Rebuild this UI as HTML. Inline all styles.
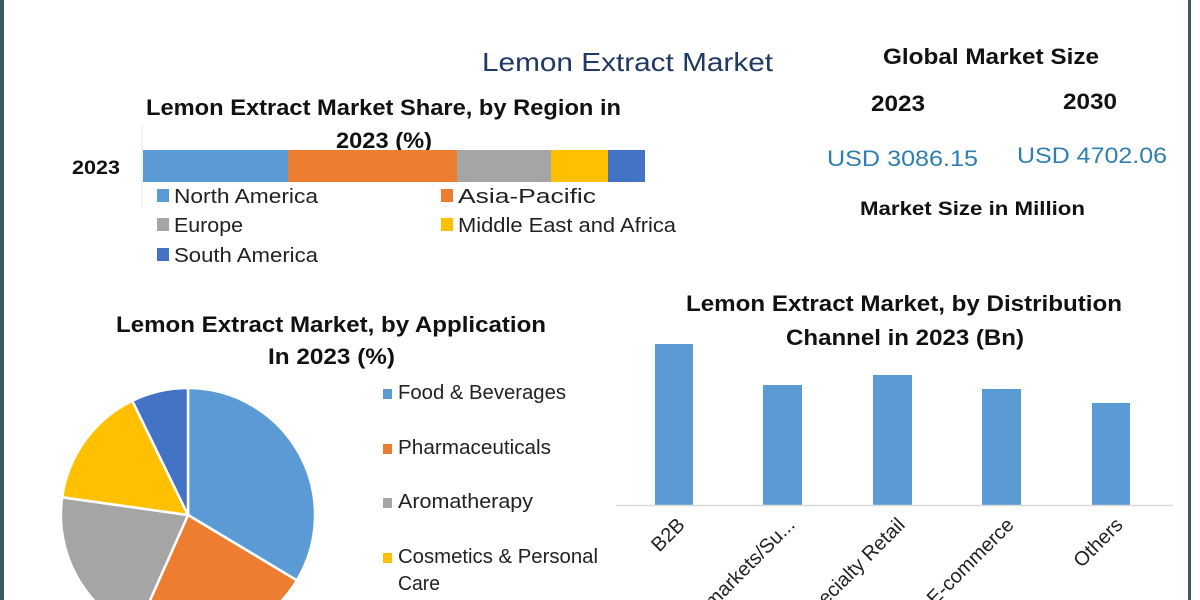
<!DOCTYPE html>
<html><head><meta charset="utf-8"><style>
html,body{margin:0;padding:0;background:#fff;width:1200px;height:600px;overflow:hidden}
svg{display:block;overflow:hidden}
text{font-family:"Liberation Sans",sans-serif}
.b{font-weight:bold;fill:#111}
.n{fill:#222}
</style></head><body>
<svg width="1200" height="600" viewBox="0 0 1200 600" xmlns="http://www.w3.org/2000/svg">
<defs><clipPath id="c"><rect x="0" y="0" width="1200" height="600"/></clipPath></defs>
<g clip-path="url(#c)">
<rect x="0" y="0" width="1200" height="600" fill="#fff"/>
<rect x="0" y="0" width="4" height="600" fill="#3d5a63"/>
<rect x="1188" y="0" width="3" height="600" fill="#3d5a63"/>

<text x="482" y="71" font-size="26" fill="#1f3864" textLength="291" lengthAdjust="spacingAndGlyphs">Lemon Extract Market</text>

<text class="b" x="146" y="115" font-size="22" textLength="475" lengthAdjust="spacingAndGlyphs">Lemon Extract Market Share, by Region in</text>
<text class="b" x="336" y="148" font-size="22" textLength="96" lengthAdjust="spacingAndGlyphs">2023 (%)</text>
<line x1="142" y1="125" x2="142" y2="208" stroke="#e6e6e6"/>
<text class="b" x="72" y="174" font-size="19" textLength="48" lengthAdjust="spacingAndGlyphs">2023</text>
<rect x="143" y="150" width="145" height="32" fill="#5b9bd5"/>
<rect x="288" y="150" width="169" height="32" fill="#ed7d31"/>
<rect x="457" y="150" width="94" height="32" fill="#a5a5a5"/>
<rect x="551" y="150" width="57" height="32" fill="#ffc000"/>
<rect x="608" y="150" width="37" height="32" fill="#4472c4"/>
<rect x="157" y="189" width="12" height="13" fill="#5b9bd5"/>
<text class="n" x="174" y="203" font-size="20" textLength="144" lengthAdjust="spacingAndGlyphs">North America</text>
<rect x="441" y="189" width="12" height="13" fill="#ed7d31"/>
<text class="n" x="458" y="203" font-size="20" textLength="138" lengthAdjust="spacingAndGlyphs">Asia-Pacific</text>
<rect x="157" y="218" width="12" height="13" fill="#a5a5a5"/>
<text class="n" x="174" y="232" font-size="20" textLength="69" lengthAdjust="spacingAndGlyphs">Europe</text>
<rect x="441" y="218" width="12" height="13" fill="#ffc000"/>
<text class="n" x="458" y="232" font-size="20" textLength="218" lengthAdjust="spacingAndGlyphs">Middle East and Africa</text>
<rect x="157" y="248" width="12" height="13" fill="#4472c4"/>
<text class="n" x="174" y="262" font-size="20" textLength="144" lengthAdjust="spacingAndGlyphs">South America</text>

<text class="b" x="883" y="64" font-size="22" textLength="216" lengthAdjust="spacingAndGlyphs">Global Market Size</text>
<text class="b" x="871" y="111" font-size="22" textLength="54" lengthAdjust="spacingAndGlyphs">2023</text>
<text class="b" x="1063" y="109" font-size="22" textLength="54" lengthAdjust="spacingAndGlyphs">2030</text>
<text x="827" y="166" font-size="22" fill="#2f7fb0" textLength="151" lengthAdjust="spacingAndGlyphs">USD 3086.15</text>
<text x="1017" y="163" font-size="22" fill="#2f7fb0" textLength="150" lengthAdjust="spacingAndGlyphs">USD 4702.06</text>
<text class="b" x="860" y="215" font-size="19" textLength="225" lengthAdjust="spacingAndGlyphs">Market Size in Million</text>

<text class="b" x="116" y="332" font-size="22" textLength="430" lengthAdjust="spacingAndGlyphs">Lemon Extract Market, by Application</text>
<text class="b" x="268" y="364" font-size="22" textLength="127" lengthAdjust="spacingAndGlyphs">In 2023 (%)</text>
<g stroke="#fff" stroke-width="2.5">
<path d="M188,515 L188,388 A127,127 0 0 1 296.9,580.4 Z" fill="#5b9bd5"/>
<path d="M188,515 L296.9,580.4 A127,127 0 0 1 136.3,631.1 Z" fill="#ed7d31"/>
<path d="M188,515 L136.3,631.1 A127,127 0 0 1 62.2,497.3 Z" fill="#a5a5a5"/>
<path d="M188,515 L62.2,497.3 A127,127 0 0 1 132.3,400.8 Z" fill="#ffc000"/>
<path d="M188,515 L132.3,400.8 A127,127 0 0 1 188,388 Z" fill="#4472c4"/>
</g>
<rect x="383" y="389" width="9" height="10" fill="#5b9bd5"/>
<text class="n" x="398" y="399" font-size="20" textLength="168" lengthAdjust="spacingAndGlyphs">Food &amp; Beverages</text>
<rect x="383" y="444" width="9" height="10" fill="#ed7d31"/>
<text class="n" x="398" y="454" font-size="20" textLength="153" lengthAdjust="spacingAndGlyphs">Pharmaceuticals</text>
<rect x="383" y="498" width="9" height="10" fill="#a5a5a5"/>
<text class="n" x="398" y="508" font-size="20" textLength="135" lengthAdjust="spacingAndGlyphs">Aromatherapy</text>
<rect x="383" y="553" width="9" height="10" fill="#ffc000"/>
<text class="n" x="398" y="563" font-size="20" textLength="200" lengthAdjust="spacingAndGlyphs">Cosmetics &amp; Personal</text>
<text class="n" x="398" y="590" font-size="20" textLength="42" lengthAdjust="spacingAndGlyphs">Care</text>

<text class="b" x="686" y="311" font-size="22" textLength="436" lengthAdjust="spacingAndGlyphs">Lemon Extract Market, by Distribution</text>
<text class="b" x="786" y="345" font-size="22" textLength="238" lengthAdjust="spacingAndGlyphs">Channel  in 2023 (Bn)</text>
<g fill="#5b9bd5">
<rect x="655" y="344" width="38" height="161"/>
<rect x="763" y="385" width="39" height="120"/>
<rect x="873" y="375" width="39" height="130"/>
<rect x="982" y="389" width="39" height="116"/>
<rect x="1092" y="403" width="38" height="102"/>
</g>
<line x1="616" y1="505.5" x2="1173" y2="505.5" stroke="#d9d9d9" stroke-width="1.5"/>
<g class="n" font-size="20" text-anchor="end">
<text transform="translate(686,526) rotate(-45)">B2B</text>
<text transform="translate(796,526) rotate(-45)">Hypermarkets/Su...</text>
<text transform="translate(906,526) rotate(-45)">Specialty Retail</text>
<text transform="translate(1015,526) rotate(-45)">E-commerce</text>
<text transform="translate(1124,526) rotate(-45)">Others</text>
</g>
</g>
</svg>
</body></html>
